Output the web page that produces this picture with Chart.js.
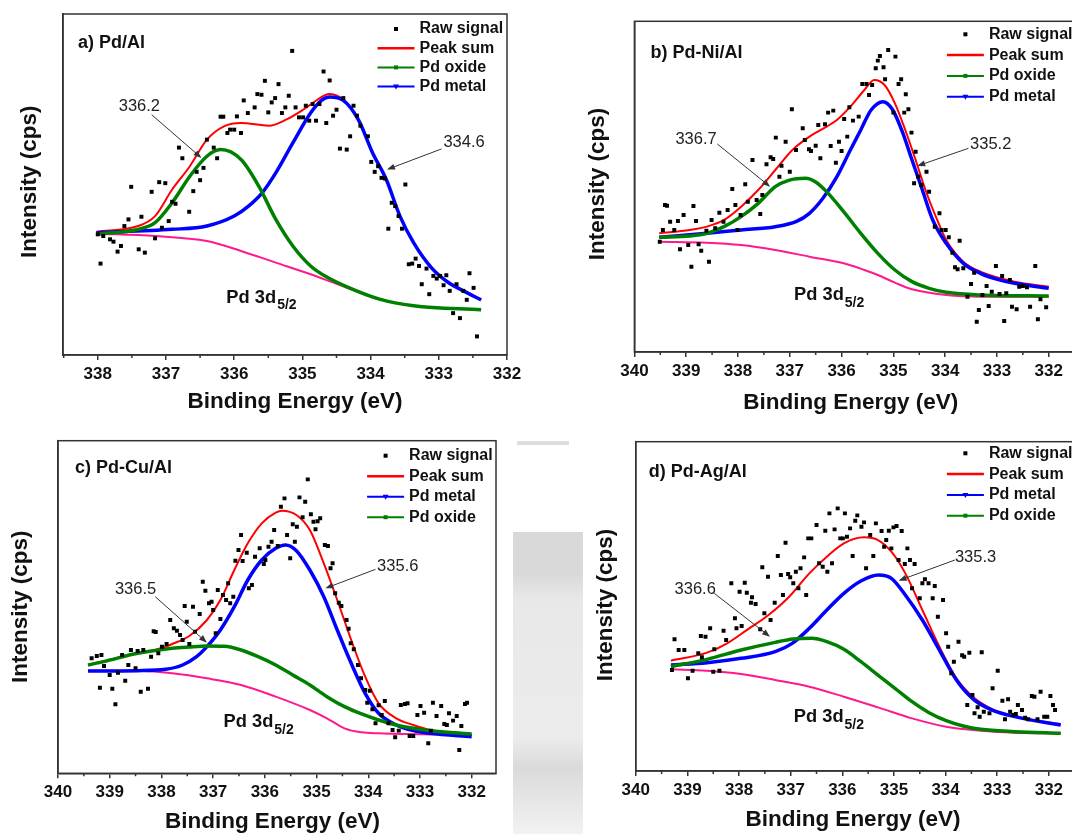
<!DOCTYPE html>
<html>
<head>
<meta charset="utf-8">
<script src="https://cdn.jsdelivr.net/npm/chart.js@4.4.1/dist/chart.umd.min.js"></script>
<style>
  html, body { margin: 0; padding: 0; background: #fff; }
  #page { position: relative; width: 1072px; height: 834px; overflow: hidden; background: #fff; }
  canvas { position: absolute; }
  #wm { position: absolute; left: 513px; top: 532px; width: 70px; height: 302px;
        background: linear-gradient(#d9d9d9 0, #d9d9d9 14%, #e8e8e8 22%, #ececec 68%, #dadada 78%, #f2f2f2 100%); }
  #wmbar { position: absolute; left: 517px; top: 441px; width: 52px; height: 4px; background: #dedede; }
</style>
</head>
<body>
<div id="page">
  <div id="wm"></div>
  <div id="wmbar"></div>
  <canvas id="pa" width="536" height="420" style="left:0;top:0"></canvas>
  <canvas id="pb" width="560" height="420" style="left:536px;top:0"></canvas>
  <canvas id="pc" width="536" height="414" style="left:0;top:420px"></canvas>
  <canvas id="pd" width="560" height="414" style="left:536px;top:420px"></canvas>
</div>
<script>
// ---- a) Pd/Al  [binding energy eV, intensity]
const rawA = [[338.00,363],[337.96,275],[337.92,358],[337.82,348],[337.77,341],[337.71,311],[337.66,328],[337.61,388],[337.55,408],[337.51,506],[337.40,318],[337.36,416],[337.31,308],[337.21,491],[337.16,351],[337.10,520],[337.06,383],[337.01,517],[336.96,403],[336.91,461],[336.86,455],[336.81,624],[336.76,592],[336.66,431],[336.60,493],[336.55,551],[336.50,526],[336.45,563],[336.40,648],[336.30,624],[336.25,592],[336.20,717],[336.16,717],[336.10,668],[336.06,678],[336.00,678],[335.96,718],[335.90,668],[335.86,766],[335.80,728],[335.70,745],[335.66,785],[335.60,783],[335.55,825],[335.50,730],[335.45,760],[335.40,773],[335.35,815],[335.30,728],[335.25,745],[335.20,780],[335.15,915],[335.10,745],[335.05,715],[334.99,715],[334.95,750],[334.90,705],[334.85,755],[334.80,705],[334.75,755],[334.69,853],[334.65,698],[334.60,826],[334.55,720],[334.50,738],[334.45,621],[334.40,773],[334.35,618],[334.30,658],[334.25,750],[334.20,720],[334.15,690],[334.04,658],[333.99,581],[333.94,551],[333.89,568],[333.84,533],[333.79,531],[333.74,380],[333.69,458],[333.64,448],[333.59,418],[333.54,380],[333.49,513],[333.44,273],[333.39,275],[333.34,290],[333.29,268],[333.25,213],[333.18,260],[333.14,183],[333.08,238],[333.03,230],[332.98,238],[332.93,210],[332.89,240],[332.84,193],[332.79,126],[332.74,213],[332.69,111],[332.64,193],[332.59,166],[332.55,246],[332.49,202],[332.44,56]];
const sumA = [[338.02,371],[337.41,388],[337.16,418],[336.91,498],[336.65,568],[336.40,648],[336.15,688],[335.90,698],[335.49,690],[335.24,708],[334.99,738],[334.78,768],[334.61,785],[334.40,768],[334.18,708],[333.97,608],[333.77,528],[333.57,418],[333.37,338],[333.11,263],[332.86,218],[332.61,190],[332.38,166]];
const oxideA = [[338.02,363],[337.41,378],[337.16,398],[336.91,458],[336.65,538],[336.40,598],[336.20,618],[335.90,588],[335.64,508],[335.39,408],[335.14,328],[334.88,268],[334.63,233],[334.38,208],[333.87,168],[333.37,148],[332.38,136]];
const metalA = [[338.02,368],[336.91,378],[336.40,388],[336.00,418],[335.79,448],[335.59,488],[335.39,548],[335.14,638],[334.88,728],[334.72,766],[334.60,776],[334.40,766],[334.18,708],[333.97,608],[333.77,528],[333.57,418],[333.37,338],[333.11,263],[332.86,218],[332.61,190],[332.38,166]];
const bgA = [[338.02,365],[337.16,358],[336.40,343],[335.90,313],[335.39,278],[334.88,243],[334.48,213],[333.87,168],[333.37,148],[332.38,136]];
const ticksA = [338, 337, 336, 335, 334, 333, 332];

// ---- b) Pd-Ni/Al
const rawB = [[339.51,331],[339.45,366],[339.41,441],[339.37,439],[339.31,391],[339.23,366],[339.16,393],[339.12,308],[339.05,411],[338.96,321],[338.90,256],[338.86,438],[338.81,393],[338.76,323],[338.71,304],[338.61,364],[338.56,271],[338.51,396],[338.44,371],[338.36,418],[338.28,391],[338.20,426],[338.11,489],[338.05,441],[338.01,366],[337.95,411],[337.86,503],[337.81,451],[337.72,576],[337.64,456],[337.57,414],[337.53,471],[337.45,563],[337.37,584],[337.32,579],[337.27,643],[337.20,526],[337.16,559],[337.08,631],[337.00,541],[336.96,728],[336.88,606],[336.75,671],[336.71,636],[336.63,608],[336.59,603],[336.50,619],[336.45,681],[336.41,581],[336.32,683],[336.26,718],[336.21,618],[336.16,724],[336.11,568],[336.05,631],[336.00,603],[335.95,699],[335.89,646],[335.85,734],[335.78,694],[335.67,706],[335.60,804],[335.52,804],[335.47,771],[335.41,801],[335.34,851],[335.30,874],[335.26,888],[335.19,854],[335.16,818],[335.10,906],[335.00,718],[334.96,886],[334.90,804],[334.85,818],[334.79,718],[334.76,773],[334.71,728],[334.65,658],[334.60,506],[334.57,601],[334.52,526],[334.46,501],[334.36,541],[334.31,481],[334.20,376],[334.11,416],[334.07,366],[333.99,366],[333.93,344],[333.86,298],[333.81,254],[333.76,248],[333.72,334],[333.65,251],[333.57,166],[333.50,204],[333.44,238],[333.39,91],[333.35,126],[333.28,171],[333.20,198],[333.16,138],[333.10,181],[333.02,258],[332.95,174],[332.90,228],[332.86,93],[332.82,176],[332.75,216],[332.71,136],[332.62,128],[332.57,196],[332.50,198],[332.42,194],[332.36,136],[332.26,258],[332.21,98],[332.16,158],[332.05,134]];
const sumB = [[339.52,356],[338.93,366],[338.60,376],[338.27,396],[337.94,436],[337.61,486],[337.28,546],[336.95,606],[336.62,646],[336.29,676],[336.09,696],[335.83,736],[335.56,786],[335.37,816],[335.17,801],[334.97,746],[334.77,666],[334.57,576],[334.38,486],[334.18,406],[333.98,336],[333.65,271],[333.32,241],[332.66,211],[332.00,196]];
const oxideB = [[339.52,344],[338.93,348],[338.60,356],[338.27,376],[337.94,406],[337.61,446],[337.28,496],[337.02,515],[336.70,521],[336.50,510],[336.29,481],[335.96,421],[335.63,356],[335.30,296],[334.97,246],[334.64,211],[334.31,191],[333.98,179],[333.32,171],[332.00,168]];
const metalB = [[339.52,344],[338.60,356],[337.94,366],[337.28,376],[336.88,391],[336.62,416],[336.36,461],[336.09,526],[335.83,606],[335.63,666],[335.43,726],[335.20,751],[335.02,728],[334.84,666],[334.64,576],[334.44,486],[334.24,396],[333.98,326],[333.65,266],[333.32,236],[332.99,218],[332.66,206],[332.00,191]];
const bgB = [[339.52,331],[338.60,328],[337.94,321],[337.28,306],[336.62,286],[335.96,266],[335.56,246],[335.30,231],[334.97,208],[334.64,188],[333.98,171],[333.32,166],[332.00,166]];
const ticksB = [340, 339, 338, 337, 336, 335, 334, 333, 332];

// ---- c) Pd-Cu/Al
const rawC = [[339.35,345],[339.25,352],[339.19,257],[339.16,355],[339.11,322],[339.00,295],[338.95,254],[338.89,207],[338.84,302],[338.76,355],[338.70,278],[338.64,325],[338.59,370],[338.50,315],[338.46,367],[338.40,245],[338.35,370],[338.26,254],[338.20,350],[338.15,426],[338.11,424],[338.06,360],[337.99,380],[337.90,388],[337.83,460],[337.76,435],[337.70,428],[337.64,415],[337.59,400],[337.55,502],[337.51,455],[337.46,388],[337.39,500],[337.35,425],[337.26,478],[337.20,575],[337.15,548],[337.08,510],[337.03,515],[337.00,490],[336.95,420],[336.91,550],[336.86,463],[336.81,535],[336.75,520],[336.71,570],[336.67,510],[336.61,530],[336.57,638],[336.51,670],[336.46,715],[336.43,637],[336.35,662],[336.31,555],[336.25,565],[336.19,650],[336.10,675],[336.02,628],[335.99,640],[335.93,680],[335.87,695],[335.82,730],[335.75,682],[335.69,800],[335.62,825],[335.57,715],[335.51,645],[335.46,747],[335.42,695],[335.38,740],[335.33,828],[335.27,768],[335.22,815],[335.17,882],[335.11,777],[335.06,755],[335.02,732],[334.98,756],[334.93,765],[334.84,685],[334.78,682],[334.73,615],[334.69,630],[334.64,540],[334.57,512],[334.52,502],[334.42,460],[334.38,434],[334.34,390],[334.28,372],[334.20,325],[334.14,285],[334.06,250],[334.02,212],[333.97,248],[333.92,192],[333.86,150],[333.80,204],[333.74,175],[333.68,217],[333.61,150],[333.53,130],[333.48,108],[333.41,128],[333.37,205],[333.29,208],[333.24,210],[333.20,112],[333.13,112],[333.05,175],[332.99,202],[332.92,182],[332.84,90],[332.79,128],[332.75,212],[332.68,172],[332.59,202],[332.53,148],[332.48,145],[332.44,180],[332.36,158],[332.29,172],[332.24,70],[332.20,142],[332.13,208],[332.09,212]];
const sumC = [[339.42,325],[338.46,360],[338.12,370],[337.79,388],[337.46,412],[337.12,460],[336.86,520],[336.59,610],[336.33,690],[336.06,750],[335.79,782],[335.67,788],[335.39,775],[335.13,730],[334.86,630],[334.60,520],[334.33,400],[334.06,290],[333.80,210],[333.46,165],[333.13,145],[332.80,130],[332.00,115]];
const oxideC = [[339.42,325],[339.12,335],[338.46,360],[337.79,375],[337.46,379],[337.12,382],[336.79,381],[336.46,370],[336.13,350],[335.79,325],[335.46,295],[335.13,265],[334.80,230],[334.46,200],[334.13,178],[333.80,160],[333.46,145],[333.13,135],[332.80,128],[332.47,123],[332.00,118]];
const metalC = [[339.42,307],[338.46,308],[337.92,312],[337.59,325],[337.32,350],[337.12,380],[336.86,430],[336.59,500],[336.33,580],[336.06,640],[335.79,675],[335.60,685],[335.39,668],[335.13,610],[334.86,530],[334.60,430],[334.33,330],[334.06,240],[333.80,180],[333.46,145],[333.13,128],[332.80,120],[332.00,110]];
const bgC = [[339.42,308],[338.46,308],[337.79,300],[337.12,285],[336.46,265],[335.79,230],[335.13,190],[334.80,165],[334.46,135],[334.13,123],[333.80,120],[332.00,115]];
const ticksC = [340, 339, 338, 337, 336, 335, 334, 333, 332];

// ---- d) Pd-Ag/Al
const rawD = [[339.30,303],[339.25,395],[339.17,363],[339.06,363],[338.99,278],[338.90,301],[338.79,353],[338.74,405],[338.72,341],[338.65,403],[338.56,428],[338.50,298],[338.48,365],[338.38,301],[338.30,421],[338.25,393],[338.15,563],[338.08,458],[338.05,428],[337.99,538],[337.95,435],[337.89,565],[337.85,535],[337.77,505],[337.75,521],[337.68,501],[337.59,425],[337.55,611],[337.51,473],[337.44,583],[337.39,453],[337.31,505],[337.25,645],[337.19,588],[337.15,528],[337.10,685],[337.05,591],[337.01,581],[336.95,563],[336.90,598],[336.85,548],[336.81,608],[336.74,641],[336.70,528],[336.66,698],[336.60,698],[336.50,738],[336.45,623],[336.38,613],[336.33,721],[336.29,598],[336.25,773],[336.20,623],[336.15,725],[336.09,788],[336.04,698],[335.99,698],[335.95,773],[335.91,703],[335.85,728],[335.80,645],[335.75,751],[335.71,767],[335.63,733],[335.58,746],[335.54,608],[335.46,708],[335.40,645],[335.35,743],[335.24,720],[335.19,673],[335.15,693],[335.10,721],[335.05,668],[335.01,731],[334.95,735],[334.91,633],[334.85,720],[334.79,621],[334.74,668],[334.69,633],[334.65,548],[334.60,621],[334.50,518],[334.45,563],[334.40,575],[334.33,563],[334.25,518],[334.21,555],[334.15,463],[334.05,513],[333.99,413],[333.95,373],[333.89,293],[333.84,328],[333.75,388],[333.68,347],[333.64,343],[333.58,198],[333.54,355],[333.48,228],[333.44,173],[333.38,191],[333.34,163],[333.30,356],[333.26,178],[333.15,173],[333.09,248],[332.99,301],[332.90,211],[332.85,155],[332.79,215],[332.75,178],[332.69,168],[332.64,171],[332.60,198],[332.52,183],[332.46,160],[332.40,155],[332.33,225],[332.28,223],[332.22,155],[332.16,238],[332.09,163],[332.03,163],[331.97,225],[331.92,198],[331.88,183]];
const sumD = [[339.32,331],[338.62,355],[338.23,383],[337.83,425],[337.43,468],[337.03,523],[336.64,593],[336.30,643],[335.97,683],[335.58,701],[335.31,693],[335.05,658],[334.78,593],[334.45,483],[334.12,373],[333.79,278],[333.46,221],[333.13,188],[332.66,163],[331.77,141]];
const oxideD = [[339.32,313],[338.62,335],[337.96,363],[337.30,386],[336.95,396],[336.60,398],[336.30,388],[335.97,365],[335.64,328],[335.31,288],[334.98,248],[334.65,208],[334.32,175],[333.99,151],[333.66,135],[333.32,125],[332.66,118],[331.77,113]];
const metalD = [[339.32,318],[338.62,325],[337.96,338],[337.30,358],[336.97,383],[336.64,428],[336.30,483],[335.97,533],[335.64,570],[335.30,588],[335.05,578],[334.78,528],[334.45,453],[334.12,363],[333.79,273],[333.46,215],[333.13,185],[332.66,163],[331.77,138]];
const bgD = [[339.32,305],[338.62,301],[337.96,291],[337.30,273],[336.64,253],[335.97,223],[335.31,191],[334.65,158],[333.99,133],[333.32,121],[332.66,115],[331.77,113]];
const ticksD = [340, 339, 338, 337, 336, 335, 334, 333, 332];

const FONT = "'Liberation Sans', Arial, sans-serif";

const STYLE = {
  raw:   { label: 'Raw signal', color: '#000000' },
  sum:   { label: 'Peak sum',   color: '#ff0000', width: 2 },
  oxide: { label: 'Pd oxide',   color: '#008000', width: 3.5 },
  metal: { label: 'Pd metal',   color: '#0000ff', width: 3.5 },
  bg:    { label: 'Background', color: '#ff1a8c', width: 2 }
};

function pts(list) {
  return list.map(p => ({ x: p[0], y: p[1] }));
}

function arrow(ctx, x1, y1, x2, y2) {
  const a = Math.atan2(y2 - y1, x2 - x1), c = Math.cos(a), s = Math.sin(a);
  ctx.beginPath();
  ctx.moveTo(x1, y1);
  ctx.lineTo(x2 - 6 * c, y2 - 6 * s);
  ctx.stroke();
  ctx.beginPath();
  ctx.moveTo(x2, y2);
  ctx.lineTo(x2 - 8 * c + 3 * s, y2 - 8 * s - 3 * c);
  ctx.lineTo(x2 - 8 * c - 3 * s, y2 - 8 * s + 3 * c);
  ctx.closePath();
  ctx.fill();
}

// frame, minor ticks, titles, panel tag, legend and peak notes
function makeDecor(p) {
  const last = p.majors[p.majors.length - 1];
  const halves = p.majors.map(v => v + 0.5).concat([last - 0.5])
    .filter(v => v >= p.xMin && v <= p.xMax);
  return {
    id: 'decor',
    afterDraw(chart) {
      const ctx = chart.ctx, a = chart.chartArea;
      const xs = chart.scales.x, ys = chart.scales.y;
      ctx.save();
      ctx.strokeStyle = '#333';
      ctx.lineWidth = 1.5;
      ctx.strokeRect(a.left, a.top, a.right - a.left, a.bottom - a.top);
      ctx.beginPath();
      halves.forEach(v => {
        const x = xs.getPixelForValue(v);
        ctx.moveTo(x, a.bottom);
        ctx.lineTo(x, a.bottom + 3);
      });
      ctx.stroke();

      ctx.fillStyle = '#111';
      ctx.textBaseline = 'middle';
      ctx.textAlign = 'center';
      ctx.font = 'bold 22.5px ' + FONT;
      ctx.fillText('Binding Energy (eV)', p.xTitle[0], p.xTitle[1]);
      ctx.save();
      ctx.translate(p.yTitle[0], p.yTitle[1]);
      ctx.rotate(-Math.PI / 2);
      ctx.fillText('Intensity (cps)', 0, 0);
      ctx.restore();

      ctx.textAlign = 'left';
      ctx.font = 'bold 18px ' + FONT;
      ctx.fillText(p.tag, p.tagPos[0], p.tagPos[1]);

      // legend
      const [lx, ly, dy] = p.legend;
      p.order.forEach((key, i) => {
        const y = ly + i * dy, st = STYLE[key];
        const x0 = lx - 42, x1 = lx - 5, xm = (x0 + x1) / 2;
        if (key === 'raw') {
          ctx.fillStyle = '#000';
          ctx.fillRect(xm - 2, y - 2, 4, 4);
        } else {
          ctx.strokeStyle = st.color;
          ctx.lineWidth = key === 'sum' ? 2.5 : 2;
          ctx.beginPath();
          ctx.moveTo(x0, y);
          ctx.lineTo(x1, y);
          ctx.stroke();
          ctx.fillStyle = st.color;
          if (key === 'oxide') ctx.fillRect(xm - 2, y - 2, 4, 4);
          if (key === 'metal') {
            ctx.beginPath();
            ctx.moveTo(xm - 3, y - 2);
            ctx.lineTo(xm + 3, y - 2);
            ctx.lineTo(xm, y + 3);
            ctx.closePath();
            ctx.fill();
          }
        }
        ctx.fillStyle = '#111';
        ctx.font = 'bold 16px ' + FONT;
        ctx.fillText(st.label, lx, y);
      });

      // peak position notes
      ctx.strokeStyle = '#333';
      ctx.lineWidth = 1;
      p.notes.forEach(n => {
        ctx.textAlign = 'center';
        ctx.font = '16.5px ' + FONT;
        ctx.fillStyle = '#222';
        ctx.fillText(n.text, xs.getPixelForValue(n.at[0]), ys.getPixelForValue(n.at[1]));
        ctx.fillStyle = '#333';
        arrow(ctx, xs.getPixelForValue(n.from[0]), ys.getPixelForValue(n.from[1]),
                   xs.getPixelForValue(n.to[0]), ys.getPixelForValue(n.to[1]));
      });

      // Pd 3d5/2
      const cx = xs.getPixelForValue(p.core[0]), cy = ys.getPixelForValue(p.core[1]);
      ctx.fillStyle = '#111';
      ctx.textAlign = 'left';
      ctx.font = 'bold 18.3px ' + FONT;
      const w1 = ctx.measureText('Pd 3d').width;
      ctx.font = 'bold 14px ' + FONT;
      const w2 = ctx.measureText('5/2').width;
      const sx = cx - (w1 + w2 + 1) / 2;
      ctx.font = 'bold 18.3px ' + FONT;
      ctx.fillText('Pd 3d', sx, cy);
      ctx.font = 'bold 14px ' + FONT;
      ctx.fillText('5/2', sx + w1 + 1, cy + 8);
      ctx.restore();
    }
  };
}

function buildPanel(id, p) {
  const el = document.getElementById(id);
  const W = el.width, H = el.height;
  const line = (key, list) => ({
    label: STYLE[key].label,
    data: pts(list),
    showLine: true,
    pointRadius: 0,
    borderColor: STYLE[key].color,
    borderWidth: STYLE[key].width,
    cubicInterpolationMode: 'monotone',
    fill: false
  });
  return new Chart(el, {
    type: 'scatter',
    data: {
      datasets: [
        { label: 'Raw signal', data: pts(p.raw), pointStyle: 'rect', pointRadius: 2.8,
          pointBackgroundColor: '#000', pointBorderWidth: 0 },
        line('oxide', p.oxide),
        line('metal', p.metal),
        line('sum', p.sum),
        line('bg', p.bg)
      ]
    },
    options: {
      responsive: false,
      animation: false,
      devicePixelRatio: 1,
      events: [],
      layout: { padding: { left: 0, top: p.area.top, right: W - p.area.right, bottom: 0 } },
      plugins: { legend: { display: false }, tooltip: { enabled: false } },
      scales: {
        x: {
          type: 'linear', reverse: true, min: p.xMin, max: p.xMax,
          afterBuildTicks: s => { s.ticks = p.majors.map(v => ({ value: v })); },
          afterFit: s => { s.height = H - p.area.bottom; },
          ticks: {
            autoSkip: false, maxRotation: 0, minRotation: 0, padding: 4, color: '#111',
            font: { family: FONT, size: 17, weight: 'bold' },
            callback: v => String(v)
          },
          grid: { drawOnChartArea: false, drawTicks: true, tickLength: 5, color: '#333', lineWidth: 1.5 },
          border: { display: true, color: '#333', width: 1.5 }
        },
        y: {
          type: 'linear', min: 0, max: p.yMax,
          afterFit: s => { s.width = p.area.left; },
          ticks: { display: false },
          grid: { display: false },
          border: { display: true, color: '#333', width: 1.5 }
        }
      }
    },
    plugins: [makeDecor(p)]
  });
}

buildPanel('pa', {
  raw: rawA, sum: sumA, oxide: oxideA, metal: metalA, bg: bgA, majors: ticksA,
  area: { left: 63, top: 14, right: 507, bottom: 355 },
  xMin: 332, xMax: 338.51, yMax: 1026,
  tag: 'a) Pd/Al', tagPos: [78, 42.7],
  legend: [419.5, 29, 19.2], order: ['raw', 'sum', 'oxide', 'metal'],
  xTitle: [295, 401.7], yTitle: [30, 181.7],
  notes: [
    { text: '336.2', at: [337.39, 748], from: [337.21, 723], to: [336.48, 593] },
    { text: '334.6', at: [332.63, 640], from: [332.96, 620], to: [333.76, 558] }
  ],
  core: [335.60, 173]
});

buildPanel('pb', {
  raw: rawB, sum: sumB, oxide: oxideB, metal: metalB, bg: bgB, majors: ticksB,
  area: { left: 98.4, top: 21.3, right: 549, bottom: 352 },
  xMin: 331.3, xMax: 340, yMax: 992,
  tag: 'b) Pd-Ni/Al', tagPos: [114.5, 52.7],
  legend: [452.9, 34.3, 20.8], order: ['raw', 'sum', 'oxide', 'metal'],
  xTitle: [314.8, 402.7], yTitle: [62.2, 184],
  notes: [
    { text: '336.7', at: [338.81, 638], from: [338.40, 624], to: [337.38, 496] },
    { text: '335.2', at: [333.12, 624], from: [333.55, 611], to: [334.54, 558] }
  ],
  core: [336.24, 171]
});

buildPanel('pc', {
  raw: rawC, sum: sumC, oxide: oxideC, metal: metalC, bg: bgC, majors: ticksC,
  area: { left: 58, top: 20.7, right: 496, bottom: 353.3 },
  xMin: 331.53, xMax: 340, yMax: 998,
  tag: 'c) Pd-Cu/Al', tagPos: [75.1, 48.3],
  legend: [409.1, 35.7, 20.5], order: ['raw', 'sum', 'metal', 'oxide'],
  xTitle: [272.4, 401.7], yTitle: [20.7, 186.7],
  notes: [
    { text: '336.5', at: [338.50, 552], from: [338.12, 530], to: [337.12, 392] },
    { text: '335.6', at: [333.43, 620], from: [333.86, 612], to: [334.83, 555] }
  ],
  core: [336.12, 155]
});

buildPanel('pd', {
  raw: rawD, sum: sumD, oxide: oxideD, metal: metalD, bg: bgD, majors: ticksD,
  area: { left: 99.8, top: 21.7, right: 549, bottom: 351 },
  xMin: 331.3, xMax: 340, yMax: 988,
  tag: 'd) Pd-Ag/Al', tagPos: [112.8, 51.7],
  legend: [452.9, 33.3, 20.8], order: ['raw', 'sum', 'metal', 'oxide'],
  xTitle: [316.9, 400], yTitle: [69.4, 185],
  notes: [
    { text: '336.6', at: [338.85, 545], from: [338.48, 533], to: [337.40, 403] },
    { text: '335.3', at: [333.42, 641], from: [333.82, 633], to: [334.91, 571] }
  ],
  core: [336.26, 163]
});
</script>
</body>
</html>
